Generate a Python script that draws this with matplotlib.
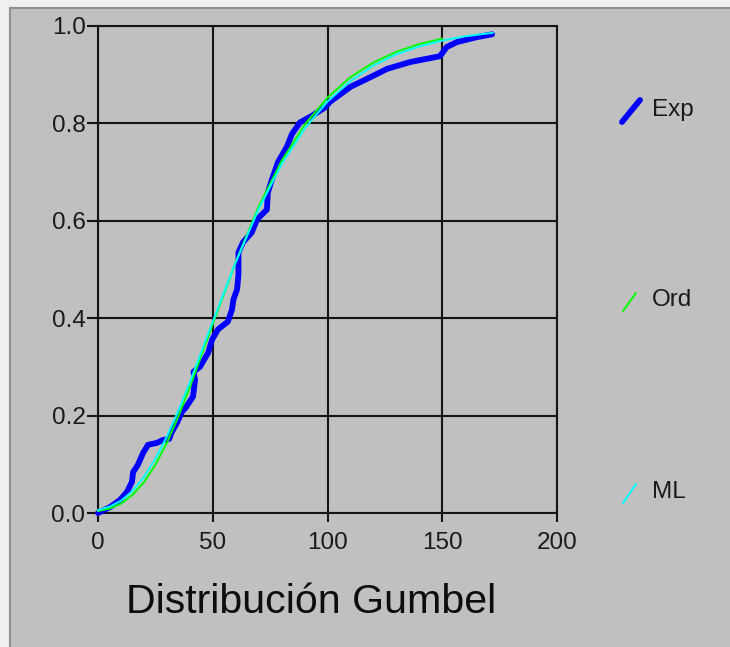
import matplotlib
matplotlib.use("Agg")
import matplotlib.pyplot as plt
from matplotlib.lines import Line2D
from matplotlib.patches import Rectangle

plt.rcParams['font.family'] = ['Liberation Sans', 'DejaVu Sans']

# Empirical cumulative frequency (Exp)
exp_x = [0, 5.2, 9.6, 12.6, 14.8, 15.3, 17.4, 19.6, 21.8, 25.7, 28.3, 31, 32, 34.4,
         36.6, 38, 41.4, 42.3, 41.6, 44.4, 48, 49.7, 52.3, 56.6, 58.4, 59, 60.6, 61.2,
         61.2, 61.2, 63.2, 67, 69.3, 73.6, 74, 75.8, 78.4, 82.4, 84.5, 88, 93, 99, 101,
         110, 117, 126, 136, 149, 152, 156.4, 165, 171.7]
exp_y = [0.0, 0.012, 0.027, 0.043, 0.064, 0.084, 0.099, 0.123, 0.140, 0.144, 0.150,
         0.152, 0.165, 0.185, 0.208, 0.215, 0.239, 0.274, 0.290, 0.300, 0.329, 0.356,
         0.377, 0.393, 0.418, 0.438, 0.459, 0.490, 0.506, 0.535, 0.556, 0.576, 0.603,
         0.623, 0.658, 0.685, 0.720, 0.753, 0.778, 0.802, 0.815, 0.833, 0.844, 0.875,
         0.891, 0.912, 0.926, 0.938, 0.957, 0.967, 0.977, 0.983]

# Gumbel fit by ordinary moments (Ord)
ord_x = [0, 5, 10, 15, 20, 25, 30, 35, 40, 50, 60, 70, 80, 90, 100, 110, 120, 130, 140, 150]
ord_y = [0.004, 0.009, 0.019, 0.037, 0.063, 0.099, 0.144, 0.198, 0.258, 0.388, 0.515,
         0.629, 0.723, 0.797, 0.853, 0.895, 0.925, 0.947, 0.963, 0.974]

# Gumbel fit by maximum likelihood (ML)
ml_x = [0, 5, 10, 15, 20, 25, 30, 35, 40, 50, 60, 70, 80, 90, 100, 110, 120, 130,
        140, 150, 160, 172]
ml_y = [0.006, 0.013, 0.025, 0.045, 0.074, 0.111, 0.157, 0.210, 0.268, 0.393, 0.515,
        0.624, 0.716, 0.789, 0.845, 0.887, 0.919, 0.942, 0.958, 0.970, 0.979, 0.986]

series_labels = ["Exp", "Ord", "ML"]
x_ticks = [0, 50, 100, 150, 200]
y_ticks = [0.0, 0.2, 0.4, 0.6, 0.8, 1.0]
title = "Distribución Gumbel"

W, H = 730, 647
fig = plt.figure(figsize=(W / 100, H / 100), dpi=100)
fig.patch.set_facecolor('#f0f0f0')

# grey panel; its border shows only on the top and left edges
fig.add_artist(Rectangle((10 / W, -0.05), 1.1, 1.05 - 8 / H, transform=fig.transFigure,
                         facecolor='#c0c0c0', edgecolor='#909090', linewidth=1.5,
                         zorder=0))

ax = fig.add_axes([98 / W, 1 - 513 / H, (557 - 98) / W, (513 - 26) / H])
ax.set_facecolor('#c0c0c0')
ax.set_xlim(0, 200)
ax.set_ylim(0, 1.0)
ax.set_xticks(x_ticks)
ax.set_yticks(y_ticks)
ax.set_xticklabels([str(v) for v in x_ticks])
ax.set_yticklabels([f"{v:.1f}" for v in y_ticks])
ax.grid(True, color='#151515', linewidth=1.5)
ax.set_axisbelow(True)
for s in ax.spines.values():
    s.set_color('#151515')
    s.set_linewidth(1.5)
ax.tick_params(axis='y', direction='out', length=8, width=1.5, pad=1,
               labelsize=17.5, labelcolor='#1a1a1a', color='#151515')
ax.tick_params(axis='x', direction='out', length=6.5, width=1.5, pad=7,
               labelsize=17.5, labelcolor='#1a1a1a', color='#151515')

ax.plot(exp_x, exp_y, color='#0000ff', linewidth=4.2, solid_capstyle='round',
        solid_joinstyle='round', clip_on=False, zorder=3)
ax.plot(ord_x, ord_y, color='#00ff00', linewidth=1.4, clip_on=False, zorder=4)
ax.plot(ml_x, ml_y, color='#00ffff', linewidth=1.4, clip_on=False, zorder=5)

# legend: short diagonal strokes with labels at the right
legend_specs = [
    (series_labels[0], '#0000ff', 4.2, (622, 122), (640, 100), 110),
    (series_labels[1], '#00ff00', 1.4, (623, 311), (636, 293), 300),
    (series_labels[2], '#00ffff', 1.4, (623, 503), (636, 484), 492),
]
for label, color, lw, p0, p1, ty in legend_specs:
    fig.add_artist(Line2D([p0[0] / W, p1[0] / W], [1 - p0[1] / H, 1 - p1[1] / H],
                          transform=fig.transFigure, color=color, linewidth=lw,
                          solid_capstyle='round'))
    fig.text(652 / W, 1 - ty / H, label, fontsize=17.5, color='#1a1a1a',
             ha='left', va='center')

fig.text(311 / W, 1 - 602 / H, title, fontsize=29.6, color='#0d0d0d',
         ha='center', va='center')

fig.savefig('out.png', dpi=100, facecolor=fig.get_facecolor())
